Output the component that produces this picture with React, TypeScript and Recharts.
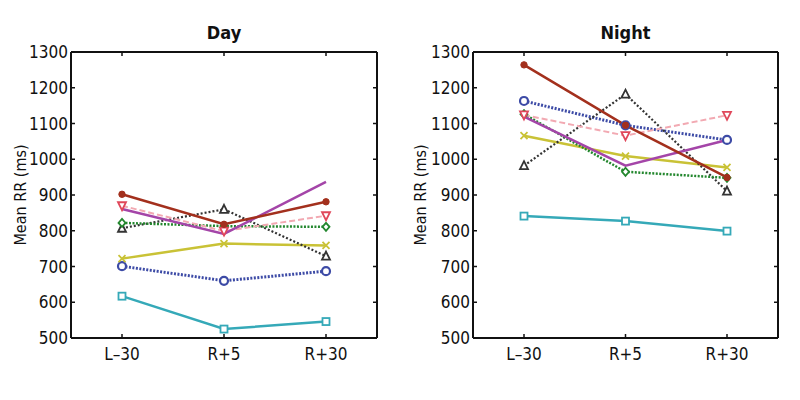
import React from 'react'
import { LineChart, Line, XAxis, YAxis, Label } from 'recharts'

const categories = ['L–30', 'R+5', 'R+30']
const yTicks = [500, 600, 700, 800, 900, 1000, 1100, 1200, 1300]

// Day panel values (ms)
const dayRed = [902, 818, 881]
const dayMagenta = [861, 791, 937]
const dayPink = [870, 799, 842]
const dayGreen = [822, 813, 811]
const dayBlack = [807, 860, 729]
const dayYellow = [722, 764, 759]
const dayBlue = [701, 660, 687]
const dayCyan = [617, 525, 546]

// Night panel values (ms)
const nightRed = [1264, 1095, 949]
const nightMagenta = [1119, 982, 1054]
const nightPink = [1124, 1066, 1123]
const nightGreen = [1126, 965, 948]
const nightBlack = [982, 1182, 911]
const nightYellow = [1066, 1009, 977]
const nightBlue = [1163, 1095, 1054]
const nightCyan = [841, 827, 799]

const FONT = "'Liberation Sans Narrow', 'DejaVu Sans Condensed', sans-serif"

type Marker = 'square' | 'circle' | 'x' | 'triangle' | 'diamond' | 'tri-down' | 'dot' | 'none'

const SERIES: { key: string; color: string; markColor?: string; dash?: string; width: number; marker: Marker }[] = [
  { key: 'cyan', color: '#35a9b8', width: 2.5, marker: 'square' },
  { key: 'blue', color: '#3d4ba6', dash: '2 1.5', width: 3, marker: 'circle' },
  { key: 'yellow', color: '#c9c236', width: 2.5, marker: 'x' },
  { key: 'black', color: '#333333', dash: '2 2', width: 2.2, marker: 'triangle' },
  { key: 'green', color: '#23872e', dash: '2 1.5', width: 2.5, marker: 'diamond' },
  { key: 'pink', color: '#f2a9b2', markColor: '#e0475a', dash: '6 3', width: 2, marker: 'tri-down' },
  { key: 'magenta', color: '#a445a8', width: 2.5, marker: 'none' },
  { key: 'red', color: '#a3301d', width: 2.5, marker: 'dot' },
]

function buildRows(v: Record<string, number[]>) {
  return categories.map((cat, i) => {
    const row: Record<string, any> = { cat }
    Object.keys(v).forEach(k => (row[k] = v[k][i]))
    return row
  })
}

const dayRows = buildRows({ red: dayRed, magenta: dayMagenta, pink: dayPink, green: dayGreen, black: dayBlack, yellow: dayYellow, blue: dayBlue, cyan: dayCyan })
const nightRows = buildRows({ red: nightRed, magenta: nightMagenta, pink: nightPink, green: nightGreen, black: nightBlack, yellow: nightYellow, blue: nightBlue, cyan: nightCyan })

const makeDot = (marker: Marker, color: string) => (props: any) => {
  const { cx, cy, index } = props
  const k = `d-${index}`
  if (cx == null || cy == null || marker === 'none') return <g key={k} />
  const r = 3.5
  const sw = 1.8
  switch (marker) {
    case 'square':
      return <rect key={k} x={cx - r} y={cy - r} width={2 * r} height={2 * r} fill="white" stroke={color} strokeWidth={sw} />
    case 'circle':
      return <circle key={k} cx={cx} cy={cy} r={r + 0.5} fill="white" stroke={color} strokeWidth={sw + 0.4} />
    case 'x':
      return (
        <path key={k} d={`M${cx - r},${cy - r}L${cx + r},${cy + r}M${cx - r},${cy + r}L${cx + r},${cy - r}`} stroke={color} strokeWidth={sw} />
      )
    case 'triangle':
      return <path key={k} d={`M${cx},${cy - r - 1}L${cx + r + 0.5},${cy + r}L${cx - r - 0.5},${cy + r}Z`} fill="white" stroke={color} strokeWidth={sw} />
    case 'tri-down':
      return <path key={k} d={`M${cx},${cy + r + 1}L${cx + r + 0.5},${cy - r}L${cx - r - 0.5},${cy - r}Z`} fill="white" stroke={color} strokeWidth={sw} />
    case 'diamond':
      return <path key={k} d={`M${cx},${cy - r - 0.5}L${cx + r},${cy}L${cx},${cy + r + 0.5}L${cx - r},${cy}Z`} fill="white" stroke={color} strokeWidth={sw} />
    case 'dot':
      return <circle key={k} cx={cx} cy={cy} r={3.2} fill={color} stroke={color} />
  }
  return <g key={k} />
}

const tickStyle = { fontSize: 17, fill: '#111', fontFamily: FONT }
const blank = () => ''

function Panel({ rows, title, left, rightGap }: { rows: any[]; title: string; left: number; rightGap: number }) {
  const width = 400
  const leftW = left
  return (
    <div style={{ position: 'absolute', top: 0, left: 0 }}>
      <LineChart width={width} height={400} data={rows} margin={{ top: 0, right: 0, bottom: 0, left: 0 }}>
        <XAxis
          dataKey="cat"
          xAxisId="b"
          height={62}
          padding={{ left: 51, right: 51 }}
          axisLine={{ stroke: '#111', strokeWidth: 2 }}
          tickLine={{ stroke: '#111', strokeWidth: 1.5 }}
          tickSize={-4}
          tickMargin={14}
          tick={tickStyle}
        />
        <XAxis
          dataKey="cat"
          xAxisId="t"
          orientation="top"
          height={52}
          padding={{ left: 51, right: 51 }}
          axisLine={{ stroke: '#111', strokeWidth: 2 }}
          tickLine={{ stroke: '#111', strokeWidth: 1.5 }}
          tickSize={-4}
          tickFormatter={blank}
        />
        <YAxis
          yAxisId="l"
          width={leftW}
          domain={[500, 1300]}
          ticks={yTicks}
          type="number"
          allowDataOverflow
          axisLine={{ stroke: '#111', strokeWidth: 2 }}
          tickLine={{ stroke: '#111', strokeWidth: 1.5 }}
          tickSize={-4}
          tickMargin={7}
          tick={tickStyle}
        >
          <Label
            value="Mean RR (ms)"
            angle={-90}
            position="insideLeft"
            offset={20}
            style={{ fontSize: 16, fill: '#111', fontFamily: FONT, textAnchor: 'middle' }}
          />
        </YAxis>
        <YAxis
          yAxisId="r"
          orientation="right"
          width={rightGap}
          domain={[500, 1300]}
          ticks={yTicks}
          type="number"
          axisLine={{ stroke: '#111', strokeWidth: 2 }}
          tickLine={{ stroke: '#111', strokeWidth: 1.5 }}
          tickSize={-4}
          tickFormatter={blank}
        />
        {SERIES.map(s => (
          <Line
            key={s.key}
            xAxisId={s.key === 'cyan' ? 't' : 'b'}
            yAxisId={s.key === 'cyan' ? 'r' : 'l'}
            dataKey={s.key}
            stroke={s.color}
            strokeWidth={s.width}
            strokeDasharray={s.dash}
            dot={makeDot(s.marker, s.markColor || s.color)}
            activeDot={false}
            isAnimationActive={false}
          />
        ))}
      </LineChart>
      <div
        style={{
          position: 'absolute',
          top: 22,
          left: leftW,
          width: width - leftW - rightGap,
          textAlign: 'center',
          fontFamily: FONT,
          fontWeight: 'bold',
          fontSize: 18,
          color: '#111',
        }}
      >
        {title}
      </div>
    </div>
  )
}

export default function App() {
  return (
    <div style={{ position: 'fixed', top: 0, left: 0, width: 800, height: 400, background: 'white' }}>
      <div style={{ position: 'absolute', left: 0, top: 0 }}>
        <Panel rows={dayRows} title="Day" left={71} rightGap={23} />
      </div>
      <div style={{ position: 'absolute', left: 400, top: 0 }}>
        <Panel rows={nightRows} title="Night" left={73} rightGap={22} />
      </div>
    </div>
  )
}
